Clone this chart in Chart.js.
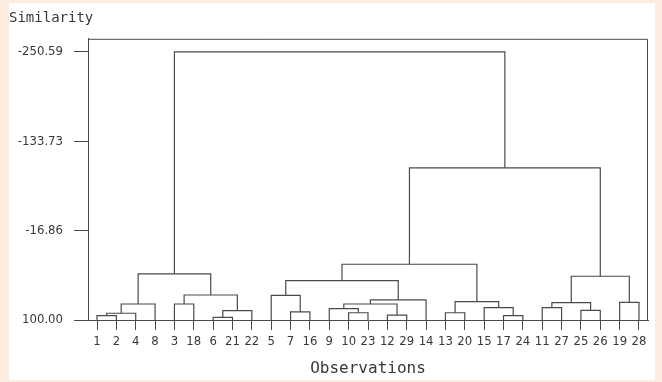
<!DOCTYPE html>
<html>
<head>
<meta charset="utf-8">
<script src="https://cdn.jsdelivr.net/npm/chart.js@4/dist/chart.umd.min.js"></script>
<style>
html, body { margin: 0; padding: 0; background: #fcebdf; }
#wrap { position: absolute; left: 9px; top: 3px; width: 646px; height: 377px; background: #fff; }
</style>
</head>
<body>
<div id="wrap"><canvas id="dendro" width="646" height="377"></canvas></div>
<script>
// leaf order along the bottom
const leaves = ["1","2","4","8","3","18","6","21","22","5","7","16","9","10","23",
  "12","29","14","13","20","15","17","24","11","27","25","26","19","28"];

// merges: node ids 0..28 are leaves, merge k gets id 29+k
const mergeLeft  = [0, 29, 30, 4, 6, 33, 32, 31, 10, 9, 13, 12, 15, 40, 42, 38, 18, 21, 20, 45, 44, 23, 25, 50, 27, 52, 49, 36];
const mergeRight = [1, 2, 3, 5, 7, 8, 34, 35, 11, 37, 14, 39, 16, 41, 17, 43, 19, 22, 46, 47, 48, 24, 26, 51, 28, 53, 54, 55];
const mergeSim   = [94.4, 91.2, 79.1, 79.1, 96.5, 87.8, 67.3, 39.8, 89.5, 67.7, 90.5, 85.2, 93.5, 79.1,
  73.8, 48.6, 90.5, 94.4, 83.9, 76.1, 27.1, 83.9, 87.3, 77.4, 76.9, 42.8, -98.84, -250.59];

const simTicks = [-250.59, -133.73, -16.86, 100.00];
const simTop = -267.6;
const leafSim = 100;

const lineColor = "#4a4a4a";
const textColor = "#383838";
const tickFont = { family: "'Liberation Sans Narrow', 'DejaVu Sans Condensed', 'DejaVu Sans Mono'", size: 13 };

// build node positions from the merge lists
const nodeX = leaves.map((_, i) => i);
const nodeY = leaves.map(() => leafSim);
const datasets = [];
mergeLeft.forEach((l, k) => {
  const r = mergeRight[k], h = mergeSim[k];
  datasets.push({
    data: [
      { x: nodeX[l], y: nodeY[l] },
      { x: nodeX[l], y: h },
      { x: nodeX[r], y: h },
      { x: nodeX[r], y: nodeY[r] }
    ],
    showLine: true,
    borderColor: lineColor,
    borderWidth: 1.2,
    pointRadius: 0,
    fill: false,
    tension: 0
  });
  nodeX.push((nodeX[l] + nodeX[r]) / 2);
  nodeY.push(h);
});

const frame = {
  id: "frame",
  afterDraw(c) {
    const a = c.chartArea, g = c.ctx;
    g.save();
    g.strokeStyle = lineColor;
    g.lineWidth = 1;
    g.beginPath();
    g.moveTo(a.left, a.top + 0.5);
    g.lineTo(a.right - 0.5, a.top + 0.5);
    g.lineTo(a.right - 0.5, a.bottom);
    g.stroke();
    g.restore();
  }
};

new Chart(document.getElementById("dendro").getContext("2d"), {
  type: "scatter",
  data: { datasets: datasets },
  plugins: [frame],
  options: {
    responsive: false,
    animation: false,
    layout: { padding: { left: 0, right: 7, top: 0, bottom: 0 } },
    plugins: {
      legend: { display: false },
      tooltip: { enabled: false },
      title: {
        display: true, text: "Similarity", align: "start", color: textColor,
        font: { family: "'DejaVu Sans Mono'", size: 14, weight: "normal" },
        padding: { top: 7, bottom: 12 }
      }
    },
    scales: {
      x: {
        type: "linear", min: -0.465, max: 28.465,
        afterBuildTicks: s => { s.ticks = leaves.map((_, i) => ({ value: i })); },
        afterFit: s => { s.height = 60; },
        ticks: { autoSkip: false, maxRotation: 0, padding: 4, color: textColor, font: tickFont,
          callback: v => leaves[v] },
        grid: { drawOnChartArea: false, tickLength: 10, color: lineColor, lineWidth: 1 },
        border: { color: lineColor, width: 1 },
        title: { display: true, text: "Observations", color: textColor,
          font: { family: "'DejaVu Sans Mono'", size: 16 }, padding: { top: 0, bottom: 2 } }
      },
      y: {
        type: "linear", reverse: true, min: simTop, max: 100,
        afterBuildTicks: s => { s.ticks = simTicks.map(v => ({ value: v })); },
        afterFit: s => { s.width = 79; },
        ticks: { padding: 11, color: textColor, font: tickFont, callback: v => v.toFixed(2) },
        grid: { drawOnChartArea: false, tickLength: 14, color: lineColor, lineWidth: 1 },
        border: { color: lineColor, width: 1 }
      }
    }
  }
});
</script>
</body>
</html>
